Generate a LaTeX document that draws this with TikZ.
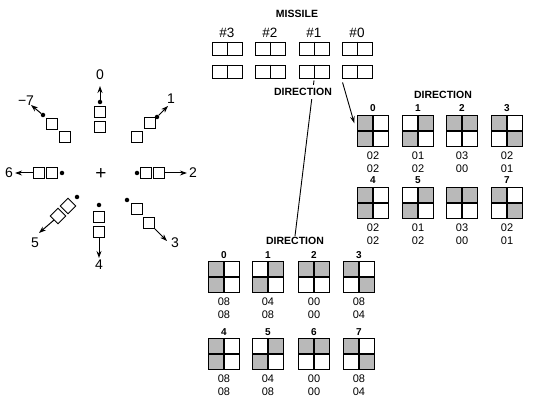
\documentclass[tikz,border=0pt]{standalone}
\usepackage{fontspec}
\setmainfont{Liberation Sans}
\usetikzlibrary{arrows.meta,calc}
\begin{document}
\begin{tikzpicture}[x=1pt,y=-1pt,
  rsq/.style={draw,line width=0.8pt,minimum size=11pt,inner sep=0pt},
  rdot/.style={circle,fill,inner sep=0pt,minimum size=4.5pt},
  rlab/.style={font=\fontsize{14}{14}\selectfont,inner sep=0pt},
  rarr/.style={-{Stealth[length=7pt,width=5pt]},line width=1pt},
  mbox/.style={draw,line width=0.9pt,minimum width=30pt,minimum height=13pt,inner sep=0pt},
  hd/.style={font=\bfseries\fontsize{10.5}{11}\selectfont,inner sep=1pt},
  hash/.style={font=\fontsize{13.5}{14}\selectfont,inner sep=0pt},
  dlab/.style={font=\bfseries\fontsize{10}{10}\selectfont,inner sep=0pt},
  num/.style={font=\fontsize{11}{11}\selectfont,inner sep=0pt},
  qb/.style={minimum size=31pt,inner sep=0pt},
  shd/.style={fill=gray!55},
  qline/.style={line width=1.2pt},
  conn/.style={line width=0.9pt},
]
\useasboundingbox (0,0) rectangle (539,401);

% ---------- compass rose ----------
\node[font=\fontsize{19}{19}\selectfont,inner sep=0pt] (ctr) at (101,174) {+};
% 0
\node[rsq] (s0a) at (100,112) {};
\node[rsq] (s0b) at (100,127) {};
\node[rdot] (d0) at (100,102) {};
\node[rlab] (l0) at (100,75) {0};
\draw[rarr] (d0) -- (l0.south |- 0,86);
% 1
\node[rsq] (s1a) at (150,123) {};
\node[rsq] (s1b) at (137,137) {};
\node[rdot] (d1) at (157,117) {};
\node[rlab] (l1) at (171,99) {1};
\coordinate (e1) at (168,106);
\draw[rarr] (d1) -- (e1);
% 2
\node[rdot] (d2) at (137,173) {};
\node[rsq] (s2a) at (146,173) {};
\node[rsq] (s2b) at (159,173) {};
\node[rlab] (l2) at (193,173) {2};
\draw[rarr,shorten >=2pt] (s2b.east) -- (l2.west);
% 3
\node[rdot] (d3) at (127,200) {};
\node[rsq] (s3a) at (137,209) {};
\node[rsq] (s3b) at (149,223) {};
\node[rlab] (l3) at (175,243) {3};
\coordinate (e3) at (167,241);
\draw[rarr] (s3b.south east) -- (e3);
% 4
\node[rdot] (d4) at (99,205) {};
\node[rsq] (s4a) at (99,217) {};
\node[rsq] (s4b) at (99,232) {};
\node[rlab] (l4) at (99,265) {4};
\draw[rarr,shorten >=2pt] (s4b.south) -- (l4.north);
% 5
\node[rdot] (d5) at (77,197) {};
\node[rsq,rotate=45] (s5a) at (68,206) {};
\node[rsq,rotate=45] (s5b) at (58,216) {};
\node[rlab] (l5) at (35,243) {5};
\coordinate (e5) at (39,233);
\draw[rarr] (s5b.west) -- (e5);
% 6
\node[rsq] (s6a) at (39,173) {};
\node[rsq] (s6b) at (52,173) {};
\node[rdot] (d6) at (62,173) {};
\node[rlab] (l6) at (9,173) {6};
\draw[rarr,shorten >=2pt] (s6a.west) -- (l6.east);
% 7
\node[rdot] (d7) at (43,115) {};
\node[rsq] (s7a) at (52,124) {};
\node[rsq] (s7b) at (65,137) {};
\node[rlab] (l7) at (26,101) {−7};
\coordinate (e7) at (31,105);
\draw[rarr] (d7) -- (e7);

% ---------- missile table ----------
\node[hd] (mis) at (297,14) {MISSILE};
\foreach \i/\x in {3/227,2/270,1/314,0/357}{
  \node[hash] (h\i) at (\x,33) {\#\i};
  \node[mbox] (m\i a) at (\x,48.5) {};
  \draw[line width=0.9pt] (m\i a.north) -- (m\i a.south);
  \node[mbox] (m\i b) at (\x,71.5) {};
  \draw[line width=0.9pt] (m\i b.north) -- (m\i b.south);
}

% ---------- upper direction table ----------
\node[hd] (udir) at (443,95) {DIRECTION};
\foreach \i/\x/\y/\a/\b/\p/\q in {
  0/373/131/02/02/{north west}/{south west},
  1/418/131/01/02/{north east}/{south west},
  2/462/131/03/00/{north west}/{north east},
  3/507/131/02/01/{north west}/{south east},
  4/373/203/02/02/{north west}/{south west},
  5/418/203/01/02/{north east}/{south west},
  6/462/203/03/00/{north west}/{north east},
  7/507/203/02/01/{north west}/{south east}}{
  \node[qb] (u\i) at (\x,\y) {};
  \fill[shd] (u\i.center) rectangle (u\i.\p);
  \fill[shd] (u\i.center) rectangle (u\i.\q);
  \draw[qline] (u\i.north west) rectangle (u\i.south east)
    (u\i.north) -- (u\i.south) (u\i.west) -- (u\i.east);
  \node[num] (u\i a) at (\x,\y+25) {\a};
  \node[num] (u\i b) at (\x,\y+38) {\b};
}
\foreach \i/\x/\y in {0/373/108,1/418/108,2/462/108,3/507/108,4/373/180,5/418/180,7/507/180}{
  \node[dlab] (ut\i) at (\x,\y) {\i};
}

% ---------- lower direction table ----------
\node[hd] (ldir) at (295,241) {DIRECTION};
\foreach \i/\x/\y/\a/\b/\p/\q in {
  0/224/277/08/08/{north west}/{south west},
  1/268/277/04/08/{north east}/{south west},
  2/314/277/00/00/{north west}/{north east},
  3/359/277/08/04/{north west}/{south east},
  4/224/354/08/08/{north west}/{south west},
  5/268/354/04/08/{north east}/{south west},
  6/314/354/00/00/{north west}/{north east},
  7/359/354/08/04/{north west}/{south east}}{
  \node[qb] (w\i) at (\x,\y) {};
  \fill[shd] (w\i.center) rectangle (w\i.\p);
  \fill[shd] (w\i.center) rectangle (w\i.\q);
  \draw[qline] (w\i.north west) rectangle (w\i.south east)
    (w\i.north) -- (w\i.south) (w\i.west) -- (w\i.east);
  \node[num] (w\i a) at (\x,\y+25) {\a};
  \node[num] (w\i b) at (\x,\y+38) {\b};
  \node[dlab] (wt\i) at (\x,\y-22) {\i};
}

% ---------- connectors ----------
\draw[conn] ($(m1b.south)+(0,2)$) -- (ldir.north);
\node[hd,fill=white,inner sep=3pt] (mdir) at (303,92) {DIRECTION};
\draw[conn,-{Stealth[length=7pt,width=4.5pt]}] ($(m0b.south west)+(1,4)$) -- ($(u0.north west)+(-3,8)$);
\end{tikzpicture}
\end{document}
